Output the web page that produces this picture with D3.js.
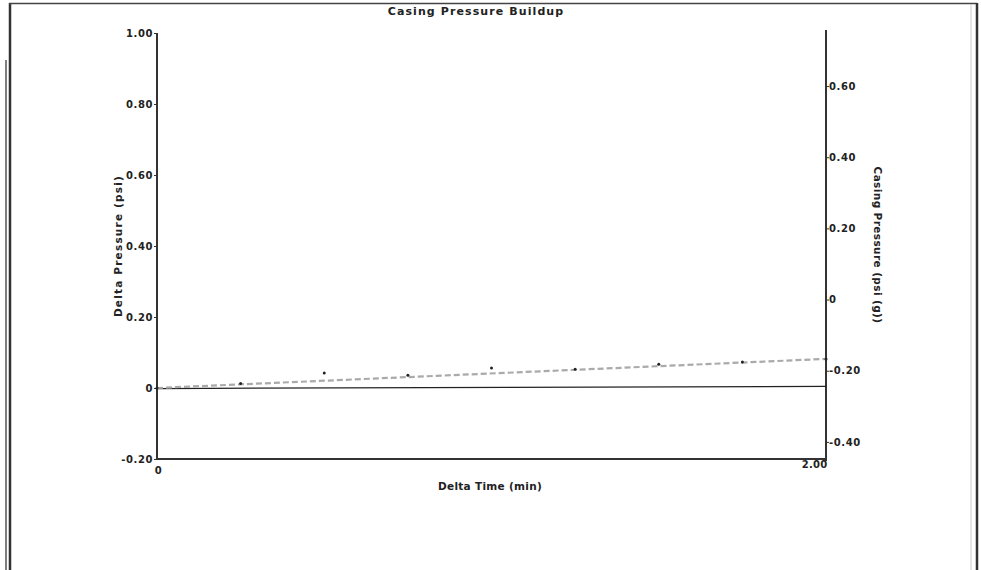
<!DOCTYPE html>
<html>
<head>
<meta charset="utf-8">
<script src="https://cdn.jsdelivr.net/npm/d3@7"></script>
<style>
  body { margin: 0; background: #fff; }
  text { font-family: "DejaVu Sans", Arial, sans-serif; font-weight: bold; fill: #222; }
</style>
</head>
<body>
<svg id="chart" width="981" height="570"></svg>
<script>
// Data
const deltaTime = [0, 0.25, 0.5, 0.75, 1.0, 1.25, 1.5, 1.75, 2.0];
const deltaPressure = [0, 0.013, 0.042, 0.036, 0.056, 0.053, 0.067, 0.073, 0.082];
const trendTime = [0, 2.0];
const trendPressure = [0, 0.082];
const casingTime = [0, 2.0];
const casingPressure = [-0.250, -0.244];

const leftTicks = [-0.20, 0, 0.20, 0.40, 0.60, 0.80, 1.00];
const rightTicks = [-0.40, -0.20, 0, 0.20, 0.40, 0.60];
const xTicks = [0, 2.00];

const svg = d3.select("#chart");
const margin = { left: 157, right: 826, top: 33, bottom: 459 };
const FONT = "DejaVu Sans, Arial, sans-serif";

const x = d3.scaleLinear().domain([0, 2]).range([margin.left, margin.right]);
const yL = d3.scaleLinear().domain([-0.2, 1.0]).range([margin.bottom, margin.top]);
const yR = d3.scaleLinear().domain([-0.448, 0.749]).range([margin.bottom, margin.top]);

// plain hyphen for negatives, like the original
const fmt = (d) => (d === 0 ? "0" : (d < 0 ? "-" : "") + Math.abs(d).toFixed(2));

// Outer frame
svg.append("line").attr("x1", 6).attr("x2", 6).attr("y1", 60).attr("y2", 570)
  .attr("stroke", "#555").attr("stroke-width", 1.5);
svg.append("line").attr("x1", 10).attr("x2", 10).attr("y1", 3).attr("y2", 570)
  .attr("stroke", "#333").attr("stroke-width", 2.5);
svg.append("line").attr("x1", 9).attr("x2", 977).attr("y1", 3.5).attr("y2", 3.5)
  .attr("stroke", "#444").attr("stroke-width", 1.5);
svg.append("line").attr("x1", 977).attr("x2", 977).attr("y1", 3).attr("y2", 570)
  .attr("stroke", "#333").attr("stroke-width", 2.5);
svg.append("line").attr("x1", 971).attr("x2", 971).attr("y1", 5).attr("y2", 570)
  .attr("stroke", "#ddd").attr("stroke-width", 1.5);

// Axes
const axisLeft = d3.axisLeft(yL).tickValues(leftTicks).tickFormat(fmt).tickSize(3).tickPadding(1);
const axisRight = d3.axisRight(yR).tickValues(rightTicks).tickFormat(fmt).tickSize(3).tickPadding(0);
const axisBottom = d3.axisBottom(x).tickValues(xTicks).tickFormat(fmt).tickSize(0).tickPadding(4);

const gL = svg.append("g").attr("transform", `translate(${margin.left},0)`).call(axisLeft);
const gR = svg.append("g").attr("transform", `translate(${margin.right},0)`).call(axisRight);
const gB = svg.append("g").attr("transform", `translate(0,${margin.bottom})`).call(axisBottom);

[gL, gR, gB].forEach(g => {
  g.select(".domain").attr("stroke", "#333").attr("stroke-width", 2);
  g.selectAll(".tick line").attr("stroke", "#333");
  g.selectAll("text").attr("font-size", 10).attr("font-weight", "bold")
    .attr("font-family", FONT).attr("fill", "#222").attr("letter-spacing", 0.6);
});
gL.select(".domain").attr("d", `M0,${margin.bottom}V${margin.top}`);
gR.select(".domain").attr("d", `M0,${margin.bottom + 2}V${margin.top - 3}`);
gB.select(".domain").attr("d", `M${margin.left},0H${margin.right}`);
gB.selectAll(".tick text")
  .attr("text-anchor", (d) => (d === 0 ? "middle" : "end"))
  .attr("letter-spacing", (d) => (d === 0 ? 0.6 : 0.3))
  .attr("dx", 1)
  .attr("dy", (d) => (d === 0 ? "1.1em" : "0.5em"));

// Casing pressure (solid, right axis)
const casingLine = d3.line().x((d, i) => x(casingTime[i])).y(d => yR(d));
svg.append("path").datum(casingPressure)
  .attr("d", casingLine).attr("fill", "none")
  .attr("stroke", "#222").attr("stroke-width", 1.2);

// Delta pressure trend (dashed gray, left axis)
const trendLine = d3.line().x((d, i) => x(trendTime[i])).y(d => yL(d));
svg.append("path").datum(trendPressure)
  .attr("d", trendLine).attr("fill", "none")
  .attr("stroke", "#aaa").attr("stroke-width", 2.2)
  .attr("stroke-dasharray", "6,3");

// Measured points
svg.append("g").selectAll("circle")
  .data(deltaPressure)
  .join("circle")
  .attr("cx", (d, i) => x(deltaTime[i]))
  .attr("cy", d => yL(d))
  .attr("r", 1.5)
  .attr("fill", "#222");

// Titles
const title = (sel, size, ls) => sel.attr("text-anchor", "middle").attr("font-size", size)
  .attr("letter-spacing", ls).attr("font-family", FONT);
svg.append("text").attr("x", 476).attr("y", 15).call(title, 11, 1.1).text("Casing Pressure Buildup");
svg.append("text").attr("x", 490).attr("y", 490).call(title, 10.5, 0.3).text("Delta Time (min)");
svg.append("text").attr("transform", "translate(122,246) rotate(-90)")
  .call(title, 10.5, 1.2).text("Delta Pressure (psi)");
svg.append("text").attr("transform", "translate(874,245) rotate(90)")
  .call(title, 10.5, 0.4).text("Casing Pressure (psi (g))");
</script>
</body>
</html>
